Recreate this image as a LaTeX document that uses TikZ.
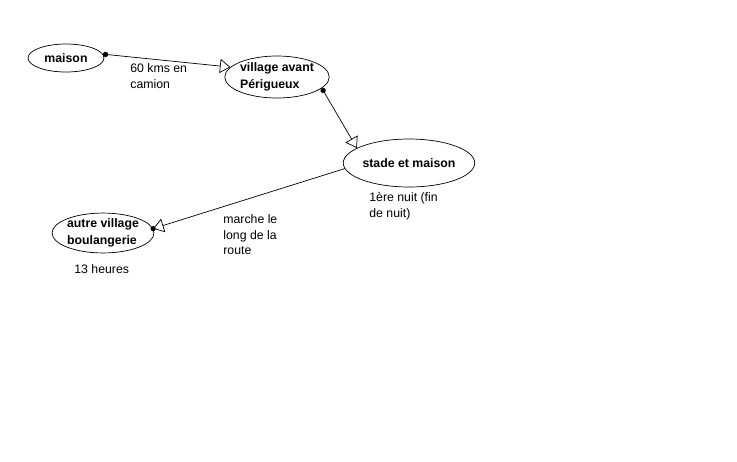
\documentclass[tikz,border=0pt]{standalone}
\usepackage{fontspec}
\setmainfont{Liberation Sans}
\usepackage{tikz}
\usetikzlibrary{arrows.meta, shapes.geometric}

\begin{document}
\begin{tikzpicture}[
    x=0.02cm, y=-0.02cm, thin,
    every node/.style={font=\fontsize{7}{9}\selectfont},
    lieu/.style={draw, ellipse, inner sep=0pt, align=left, font=\fontsize{7}{9.5}\selectfont\bfseries},
    note/.style={align=left, anchor=north west, inner sep=0pt},
    trajet/.style={{Circle[length=3pt]}-{Triangle[open, length=6pt, width=8pt]}}
]
\useasboundingbox (0,0) rectangle (737,461);

% Places
\node[lieu, minimum width=1.52cm, minimum height=0.56cm] (maison) at (66,58) {maison};
\node[lieu, minimum width=2.08cm, minimum height=0.84cm] (village) at (277,77) {village avant\\P\'erigueux};
\node[lieu, minimum width=2.48cm, minimum height=0.96cm] (stade) at (409,163) {stade et maison};
\node[lieu, minimum width=2.04cm, minimum height=0.72cm] (autre) at (103,233) {autre village\\boulangerie};

% Trips
\draw[trajet] (maison.6) -- (village.168);
\draw[trajet] (village.-14) -- (stade.164);
\draw[-{Triangle[open, length=6pt, width=8pt]}] (stade.185) -- (autre.5);
\fill (autre.5) circle (1.5pt);

% Notes
\node[note] (camion) at (130,63) {60 kms en\\camion};
\node[note] (nuit) at (369,192) {1\`ere nuit (fin\\de nuit)};
\node[note] (route) at (223,214) {marche le\\long de la\\route};
\node[note] (heures) at (74,264) {13 heures};
\end{tikzpicture}
\end{document}
